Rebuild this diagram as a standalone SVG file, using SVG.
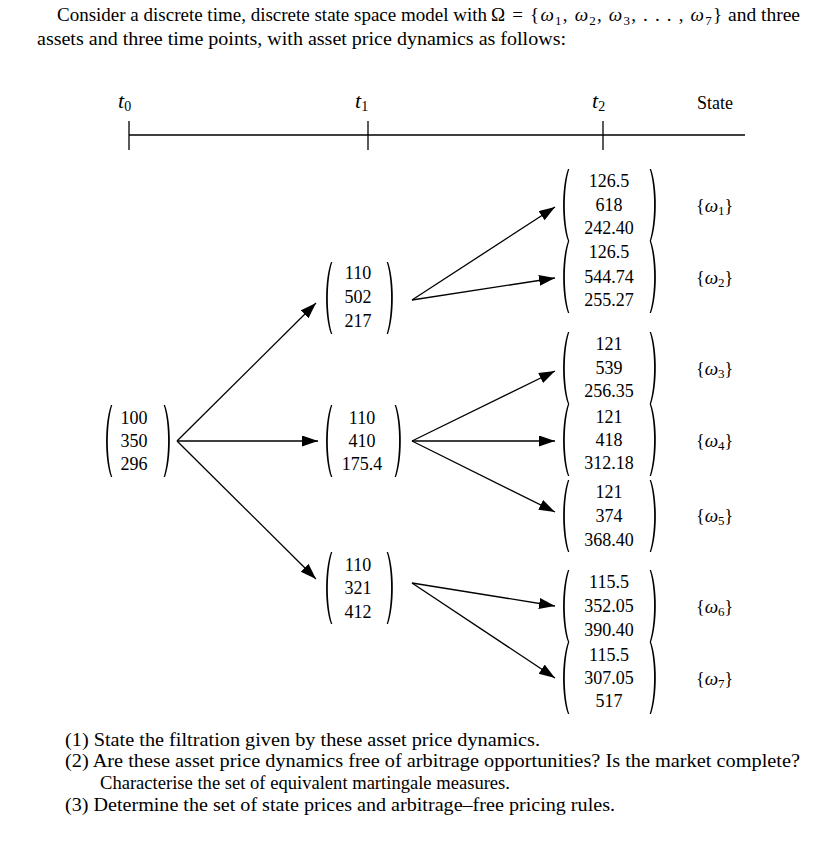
<svg xmlns="http://www.w3.org/2000/svg" xmlns:xlink="http://www.w3.org/1999/xlink" width="839" height="851" viewBox="0 0 839 851">
<style>
text{font-family:"Liberation Serif","Times New Roman",serif;fill:#000}
.hd{font-size:19px}
.num{font-size:18px;text-anchor:middle}
.st{font-size:18px}
.it{font-style:italic}
.conn line{stroke:#000;stroke-width:1.3;marker-end:url(#ah)}
.paren{fill:#000}
.tk{stroke:#000;stroke-width:1.3}
</style>
<defs>
<marker id="ah" markerUnits="userSpaceOnUse" markerWidth="17" markerHeight="12" refX="16" refY="5.5" orient="auto">
<path d="M0,0 L16,5.5 L0,11 Z" fill="#000"/>
</marker>
<path id="lp" class="paren" d="M7,0 C0.5,18 0.5,54 7,72 L8.3,72 C2.4,54 2.4,18 8.3,0 Z"/>
<path id="rp" class="paren" d="M2,0 C8.5,18 8.5,54 2,72 L0.7,72 C6.6,54 6.6,18 0.7,0 Z"/>
</defs>
<rect width="839" height="851" fill="#fff"/>

<g id="header">
<text class="hd" x="57" y="21" textLength="430" lengthAdjust="spacingAndGlyphs">Consider a discrete time, discrete state space model with</text>
<text class="hd" x="491" y="21" textLength="231" lengthAdjust="spacing">Ω = {<tspan class="it">ω</tspan><tspan font-size="13" dy="4">1</tspan><tspan dy="-4">, </tspan><tspan class="it">ω</tspan><tspan font-size="13" dy="4">2</tspan><tspan dy="-4">, </tspan><tspan class="it">ω</tspan><tspan font-size="13" dy="4">3</tspan><tspan dy="-4">, . . . , </tspan><tspan class="it">ω</tspan><tspan font-size="13" dy="4">7</tspan><tspan dy="-4">}</tspan></text>
<text class="hd" x="728" y="21" textLength="72" lengthAdjust="spacingAndGlyphs">and three</text>
<text class="hd" x="37" y="45" textLength="529" lengthAdjust="spacingAndGlyphs">assets and three time points, with asset price dynamics as follows:</text>
</g>

<g id="timeline">
<line class="tk" x1="129" y1="135" x2="745" y2="135"/>
<line class="tk" x1="129" y1="121" x2="129" y2="150"/>
<line class="tk" x1="368" y1="121" x2="368" y2="150"/>
<line class="tk" x1="603" y1="121" x2="603" y2="150"/>
<text font-size="22" x="118" y="108"><tspan class="it">t</tspan><tspan font-size="14" dy="3">0</tspan></text>
<text font-size="22" x="355" y="108"><tspan class="it">t</tspan><tspan font-size="14" dy="3">1</tspan></text>
<text font-size="22" x="592" y="108"><tspan class="it">t</tspan><tspan font-size="14" dy="3">2</tspan></text>
<text class="st" x="697" y="109">State</text>
</g>

<g id="node-t0">
<use xlink:href="#lp" x="104" y="405"/><use xlink:href="#rp" x="163" y="405"/>
<text class="num" x="134" y="424">100</text><text class="num" x="134" y="447">350</text><text class="num" x="134" y="470">296</text>
</g>

<g id="node-t1-up">
<use xlink:href="#lp" x="324" y="262"/><use xlink:href="#rp" x="386" y="262"/>
<text class="num" x="358" y="279">110</text><text class="num" x="358" y="303">502</text><text class="num" x="358" y="327">217</text>
</g>
<g id="node-t1-mid">
<use xlink:href="#lp" x="324" y="405"/><use xlink:href="#rp" x="394" y="405"/>
<text class="num" x="362" y="424">110</text><text class="num" x="362" y="447">410</text><text class="num" x="362" y="470">175.4</text>
</g>
<g id="node-t1-down">
<use xlink:href="#lp" x="324" y="552"/><use xlink:href="#rp" x="386" y="552"/>
<text class="num" x="358" y="571">110</text><text class="num" x="358" y="594">321</text><text class="num" x="358" y="618">412</text>
</g>

<g id="node-w1">
<use xlink:href="#lp" x="561" y="169"/><use xlink:href="#rp" x="649" y="169"/>
<text class="num" x="609" y="187">126.5</text><text class="num" x="609" y="211">618</text><text class="num" x="609" y="234">242.40</text>
</g>
<g id="node-w2">
<use xlink:href="#lp" x="561" y="241"/><use xlink:href="#rp" x="649" y="241"/>
<text class="num" x="609" y="258">126.5</text><text class="num" x="609" y="283">544.74</text><text class="num" x="609" y="306">255.27</text>
</g>
<g id="node-w3">
<use xlink:href="#lp" x="561" y="332"/><use xlink:href="#rp" x="649" y="332"/>
<text class="num" x="609" y="350">121</text><text class="num" x="609" y="374">539</text><text class="num" x="609" y="397">256.35</text>
</g>
<g id="node-w4">
<use xlink:href="#lp" x="561" y="404"/><use xlink:href="#rp" x="649" y="404"/>
<text class="num" x="609" y="423">121</text><text class="num" x="609" y="446">418</text><text class="num" x="609" y="469">312.18</text>
</g>
<g id="node-w5">
<use xlink:href="#lp" x="561" y="480"/><use xlink:href="#rp" x="649" y="480"/>
<text class="num" x="609" y="498">121</text><text class="num" x="609" y="522">374</text><text class="num" x="609" y="546">368.40</text>
</g>
<g id="node-w6">
<use xlink:href="#lp" x="561" y="570"/><use xlink:href="#rp" x="649" y="570"/>
<text class="num" x="609" y="588">115.5</text><text class="num" x="609" y="612">352.05</text><text class="num" x="609" y="636">390.40</text>
</g>
<g id="node-w7">
<use xlink:href="#lp" x="561" y="642"/><use xlink:href="#rp" x="649" y="642"/>
<text class="num" x="609" y="661">115.5</text><text class="num" x="609" y="684">307.05</text><text class="num" x="609" y="707">517</text>
</g>

<g id="states">
<text class="st" x="696" y="212">{<tspan class="it" font-size="19">ω</tspan><tspan font-size="13" dy="3">1</tspan><tspan dy="-3">}</tspan></text>
<text class="st" x="696" y="284">{<tspan class="it" font-size="19">ω</tspan><tspan font-size="13" dy="3">2</tspan><tspan dy="-3">}</tspan></text>
<text class="st" x="696" y="375">{<tspan class="it" font-size="19">ω</tspan><tspan font-size="13" dy="3">3</tspan><tspan dy="-3">}</tspan></text>
<text class="st" x="696" y="447">{<tspan class="it" font-size="19">ω</tspan><tspan font-size="13" dy="3">4</tspan><tspan dy="-3">}</tspan></text>
<text class="st" x="696" y="522">{<tspan class="it" font-size="19">ω</tspan><tspan font-size="13" dy="3">5</tspan><tspan dy="-3">}</tspan></text>
<text class="st" x="696" y="613">{<tspan class="it" font-size="19">ω</tspan><tspan font-size="13" dy="3">6</tspan><tspan dy="-3">}</tspan></text>
<text class="st" x="696" y="685">{<tspan class="it" font-size="19">ω</tspan><tspan font-size="13" dy="3">7</tspan><tspan dy="-3">}</tspan></text>
</g>

<g id="connectors" class="conn">
<line x1="177" y1="441" x2="316" y2="303"/>
<line x1="177" y1="441" x2="318" y2="441"/>
<line x1="177" y1="441" x2="316" y2="579"/>
<line x1="412" y1="300" x2="555" y2="207"/>
<line x1="412" y1="300" x2="555" y2="278"/>
<line x1="412" y1="441" x2="555" y2="371"/>
<line x1="412" y1="441" x2="555" y2="441"/>
<line x1="412" y1="441" x2="555" y2="512"/>
<line x1="412" y1="583" x2="555" y2="606"/>
<line x1="412" y1="583" x2="555" y2="678"/>
</g>

<g id="questions">
<text class="hd" x="65" y="746" textLength="475" lengthAdjust="spacingAndGlyphs">(1) State the filtration given by these asset price dynamics.</text>
<text class="hd" x="65" y="767" textLength="735" lengthAdjust="spacingAndGlyphs">(2) Are these asset price dynamics free of arbitrage opportunities? Is the market complete?</text>
<text class="hd" x="100" y="789" textLength="410" lengthAdjust="spacingAndGlyphs">Characterise the set of equivalent martingale measures.</text>
<text class="hd" x="65" y="811" textLength="550" lengthAdjust="spacingAndGlyphs">(3) Determine the set of state prices and arbitrage–free pricing rules.</text>
</g>
</svg>
